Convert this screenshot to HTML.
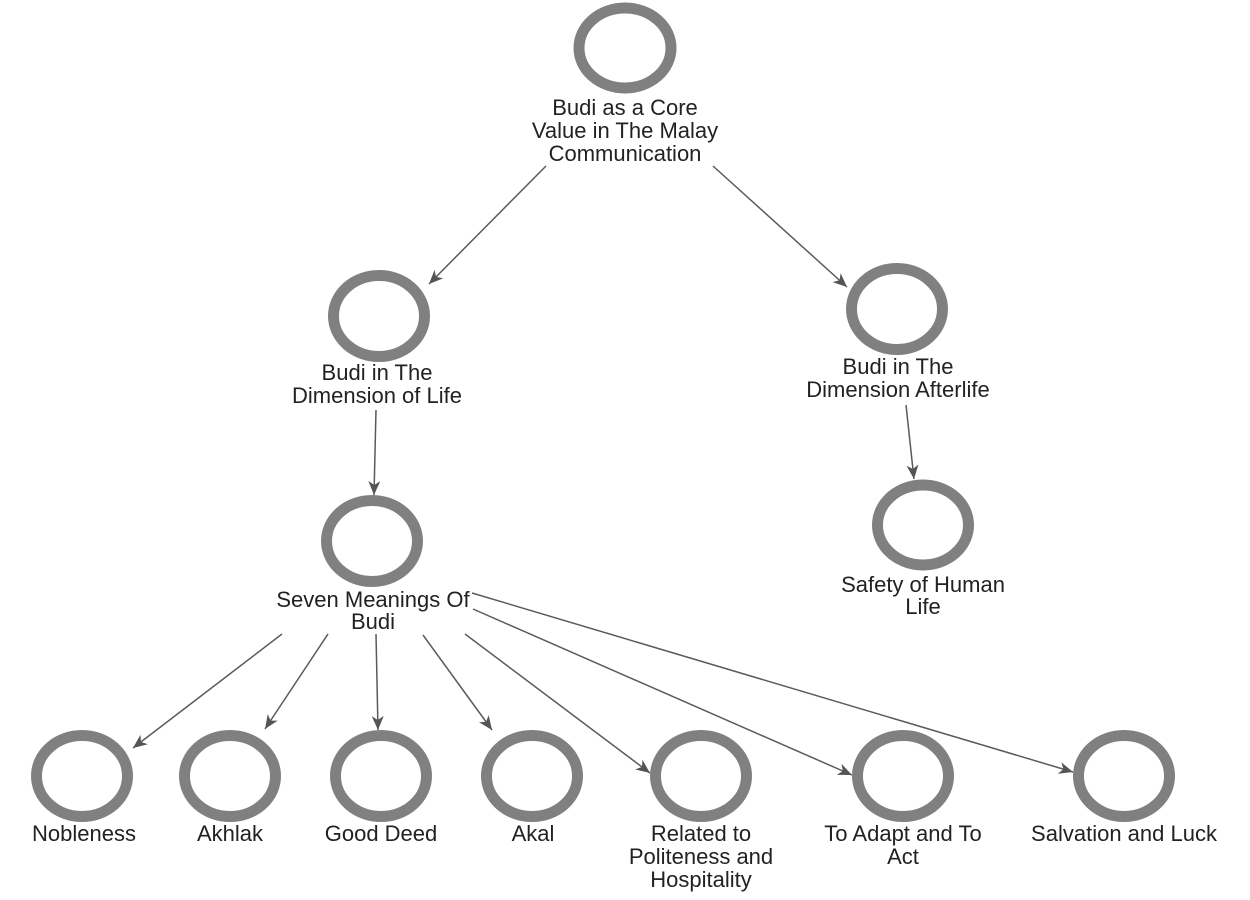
<!DOCTYPE html>
<html>
<head>
<meta charset="utf-8">
<style>
html,body{margin:0;padding:0;background:#fff;}
svg{display:block;}
text{font-family:"Liberation Sans",Arial,sans-serif;font-size:22px;fill:#222;text-anchor:middle;}
</style>
</head>
<body>
<svg width="1250" height="900" viewBox="0 0 1250 900" xmlns="http://www.w3.org/2000/svg">
<defs>
<marker id="ah" viewBox="0 0 14 12" refX="14" refY="6" markerWidth="14" markerHeight="12" markerUnits="userSpaceOnUse" orient="auto">
<path d="M0,0 L14,6 L0,12 L4,6 Z" fill="#555"/>
</marker>
</defs>
<g stroke="#5a5a5a" stroke-width="1.5" fill="none" marker-end="url(#ah)">
<line x1="546" y1="166" x2="429" y2="284"/>
<line x1="713" y1="166" x2="847" y2="287"/>
<line x1="376" y1="410" x2="374" y2="495"/>
<line x1="906" y1="405" x2="914" y2="479"/>
<line x1="282" y1="634" x2="133" y2="748"/>
<line x1="328" y1="634" x2="265" y2="729"/>
<line x1="376" y1="634" x2="378" y2="730"/>
<line x1="423" y1="635" x2="492" y2="730"/>
<line x1="465" y1="634" x2="650" y2="773"/>
<line x1="473" y1="609" x2="852" y2="775"/>
<line x1="472" y1="593" x2="1073" y2="772"/>
</g>
<g stroke="#808080" stroke-width="11" fill="none">
<ellipse cx="625" cy="48" rx="46" ry="40"/>
<ellipse cx="379" cy="316" rx="45.5" ry="40.5"/>
<ellipse cx="897" cy="309" rx="45.5" ry="40.5"/>
<ellipse cx="923" cy="525" rx="45.5" ry="40"/>
<ellipse cx="372" cy="541" rx="45.5" ry="40.5"/>
<ellipse cx="82" cy="776" rx="45.5" ry="40.5"/>
<ellipse cx="230" cy="776" rx="45.5" ry="40.5"/>
<ellipse cx="381" cy="776" rx="45.5" ry="40.5"/>
<ellipse cx="532" cy="776" rx="45.5" ry="40.5"/>
<ellipse cx="701" cy="776" rx="45.5" ry="40.5"/>
<ellipse cx="903" cy="776" rx="45.5" ry="40.5"/>
<ellipse cx="1124" cy="776" rx="45.5" ry="40.5"/>
</g>
<text x="625" y="115">Budi as a Core</text>
<text x="625" y="138">Value in The Malay</text>
<text x="625" y="161">Communication</text>
<text x="377" y="380">Budi in The</text>
<text x="377" y="403">Dimension of Life</text>
<text x="898" y="374">Budi in The</text>
<text x="898" y="397">Dimension Afterlife</text>
<text x="923" y="592">Safety of Human</text>
<text x="923" y="614">Life</text>
<text x="373" y="607">Seven Meanings Of</text>
<text x="373" y="629">Budi</text>
<text x="84" y="841">Nobleness</text>
<text x="230" y="841">Akhlak</text>
<text x="381" y="841">Good Deed</text>
<text x="533" y="841">Akal</text>
<text x="701" y="841">Related to</text>
<text x="701" y="864">Politeness and</text>
<text x="701" y="887">Hospitality</text>
<text x="903" y="841">To Adapt and To</text>
<text x="903" y="864">Act</text>
<text x="1124" y="841">Salvation and Luck</text>
</svg>
</body>
</html>
